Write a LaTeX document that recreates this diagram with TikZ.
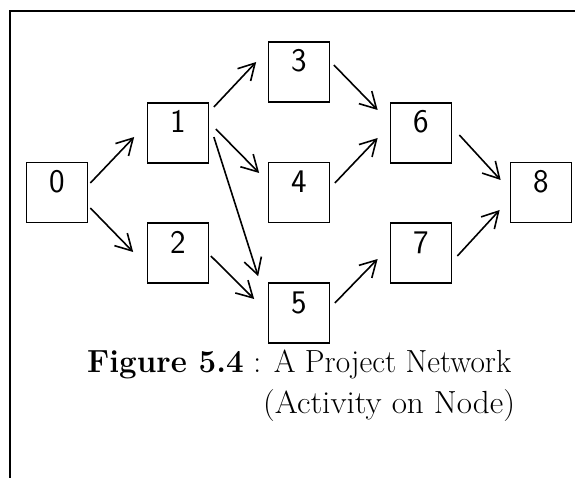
\documentclass[tikz,border=0pt]{standalone}
\usetikzlibrary{arrows.meta}
\begin{document}
\begin{tikzpicture}[x=1pt,y=-1pt,
  actbox/.style={draw,line width=1.7pt,inner sep=0pt,minimum width=61pt,
    text height=30pt,text depth=30pt,font=\sffamily\fontsize{33}{36}\selectfont},
  arr/.style={line width=1.6pt,-{Straight Barb[length=16pt,width=18pt,line width=1.6pt]}},
  capfont/.style={font=\fontsize{32}{38}\selectfont,inner sep=0pt}]
  \useasboundingbox (0,0) rectangle (575,478);
  % page frame (top and left rules)
  \draw[line width=1.8pt] (575,11) -- (10,11) -- (10,478);

  % activity nodes
  \node[actbox] (n0) at (57,192.5) {0};
  \node[actbox] (n1) at (178,133) {1};
  \node[actbox] (n2) at (178,253) {2};
  \node[actbox] (n3) at (299,72) {3};
  \node[actbox] (n4) at (299,192.5) {4};
  \node[actbox] (n5) at (299,313) {5};
  \node[actbox] (n6) at (421,133) {6};
  \node[actbox] (n7) at (421,253) {7};
  \node[actbox] (n8) at (541,192.5) {8};

  % precedence arrows
  \draw[arr] ([xshift=2pt,yshift=9.5pt]n0.east) -- ([xshift=-12.5pt,yshift=-4pt]n1.west);
  \draw[arr] ([xshift=2pt,yshift=-15.5pt]n0.east) -- ([xshift=-13.5pt,yshift=1pt]n2.west);
  \draw[arr] ([xshift=4.5pt,yshift=26pt]n1.east) -- ([xshift=-11.5pt,yshift=10pt]n3.west);
  \draw[arr] ([xshift=6.5pt,yshift=4pt]n1.east) -- ([xshift=-8.5pt,yshift=19.5pt]n4.west);
  \draw[arr] ([xshift=4.5pt,yshift=-4pt]n1.east) -- ([xshift=-9.5pt,yshift=6pt]n5.north west);
  \draw[arr] ([xshift=1.5pt,yshift=-3pt]n2.east) -- ([xshift=-13.5pt,yshift=14pt]n5.west);
  \draw[arr] ([xshift=3.5pt,yshift=7pt]n3.east) -- ([xshift=-12pt,yshift=23pt]n6.west);
  \draw[arr] ([xshift=4.5pt,yshift=9.5pt]n4.east) -- ([xshift=-12pt,yshift=-5pt]n6.west);
  \draw[arr] ([xshift=4.5pt,yshift=10pt]n5.east) -- ([xshift=-12pt,yshift=-6pt]n7.west);
  \draw[arr] ([xshift=7pt,yshift=-2pt]n6.east) -- ([xshift=-9pt,yshift=12.5pt]n8.west);
  \draw[arr] ([xshift=5pt,yshift=-3pt]n7.east) -- ([xshift=-10pt,yshift=-17.5pt]n8.west);

  % caption
  \node[capfont,anchor=base west,xscale=0.98] (cap1) at (87,372) {\textbf{Figure 5.4} : A Project Network};
  \node[capfont,anchor=base west,xscale=1.035] (cap2) at (263,413) {(Activity on Node)};
\end{tikzpicture}
\end{document}
